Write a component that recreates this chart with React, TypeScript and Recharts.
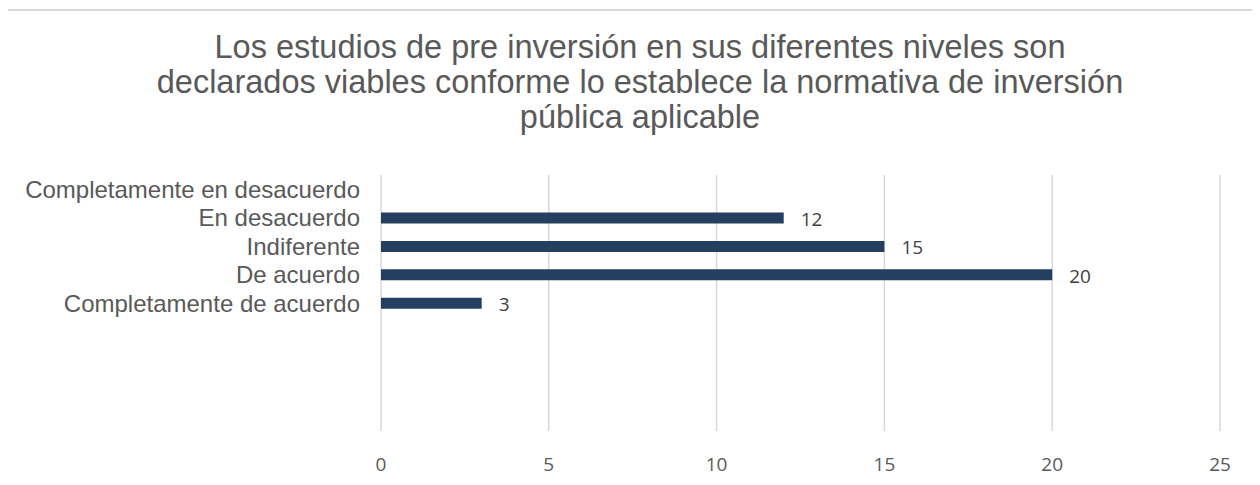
import React from "react";
import { BarChart, Bar, XAxis, YAxis, CartesianGrid, LabelList } from "recharts";

const categories = [
  "Completamente en desacuerdo",
  "En desacuerdo",
  "Indiferente ",
  "De acuerdo",
  "Completamente de acuerdo",
  "",
  "",
  "",
  "",
];
const values: (number | null)[] = [null, 12, 15, 20, 3, null, null, null, null];
const xTicks = [0, 5, 10, 15, 20, 25];
const titleLines = [
  "Los estudios de pre inversión en sus diferentes niveles son",
  "declarados viables conforme lo establece la normativa de inversión",
  "pública aplicable",
];

const data = categories.map((c, i) => ({ name: c, key: i, value: values[i] }));

const W = 1260;
const H = 485;

export default function App() {
  return (
    <div style={{ position: "relative", width: W, height: H, margin: -8, overflow: "hidden", background: "#fff" }}>
      <div
        style={{
          position: "absolute",
          left: 5,
          top: 9,
          width: 1254,
          height: 520,
          border: "2px solid #d9d9d9",
          boxSizing: "border-box",
        }}
      />
      <div
        style={{
          position: "absolute",
          left: 0,
          width: 1280,
          top: 30,
          textAlign: "center",
          fontFamily: "'Liberation Sans', Arial, sans-serif",
          fontSize: 32.5,
          lineHeight: "35px",
          color: "#595959",
        }}
      >
        {titleLines.map((t, i) => (
          <div key={i}>{t}</div>
        ))}
      </div>
      <div style={{ position: "absolute", left: 0, top: 0 }}>
        <BarChart
          width={W}
          height={H}
          data={data}
          layout="vertical"
          margin={{ top: 175, right: 40, bottom: 0, left: 0 }}
          barCategoryGap={0}
        >
          <CartesianGrid horizontal={false} stroke="#d9d9d9" strokeWidth={1.5} />
          <XAxis
            type="number"
            domain={[0, 25]}
            ticks={xTicks}
            interval={0}
            axisLine={false}
            tickLine={false}
            tickSize={0}
            tickMargin={27}
            height={54}
            tick={{ fill: "#595959", fontSize: 19, fontFamily: "'Open Sans', sans-serif" }}
          />
          <YAxis
            type="category"
            dataKey="key"
            tickFormatter={(k: number) => categories[k]}
            width={381}
            axisLine={false}
            tickLine={false}
            tickSize={0}
            tickMargin={21}
            interval={0}
            tick={{ fill: "#595959", fontSize: 24, fontFamily: "'Liberation Sans', Arial, sans-serif" }}
          />
          <Bar dataKey="value" fill="#243f60" barSize={11} isAnimationActive={false}>
            <LabelList
              dataKey="value"
              position="right"
              offset={17}
              dy={1}
              fill="#404040"
              fontSize={19}
              fontFamily="'Open Sans', sans-serif"
            />
          </Bar>
        </BarChart>
      </div>
    </div>
  );
}
